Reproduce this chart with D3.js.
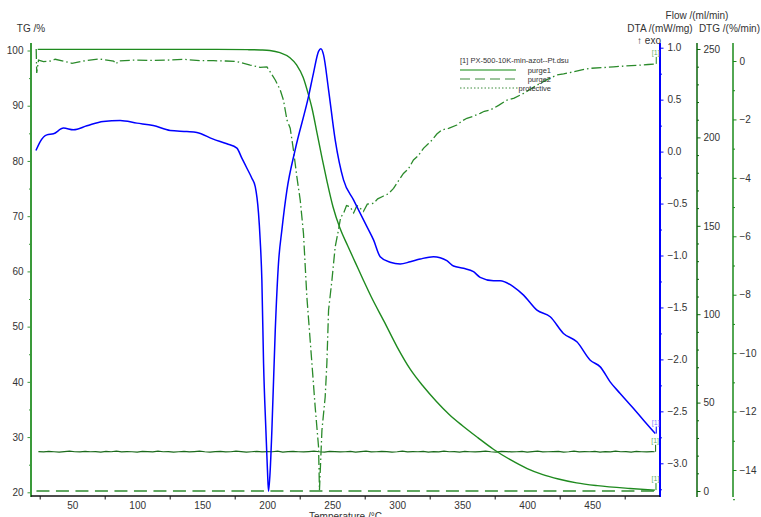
<!DOCTYPE html>
<html>
<head>
<meta charset="utf-8">
<script src="https://cdn.jsdelivr.net/npm/d3@7"></script>
<style>
  body { margin: 0; background: #fff; }
  svg { display: block; font-family: "Liberation Sans", Arial, sans-serif; }
</style>
</head>
<body>
<svg id="chart" width="761" height="517"></svg>
<script>
// ---------------- data (temperature in °C) ----------------
// TG mass curve [T, %]
const tgData = [
  [23.5, 100.2], [60, 100.2], [100, 100.2], [150, 100.2], [185, 100.15], [195, 100.1],
  [202, 100.0], [209.8, 99.6], [217.5, 98.7], [222.6, 97.4], [227.7, 95.1],
  [231.6, 92.1], [234.5, 89.5], [238.3, 85.1], [242.2, 80.5], [246.0, 76.3],
  [250.6, 71.7], [256.0, 67.8], [262, 64.6], [268, 61.5], [274, 58.4],
  [280, 55.4], [290, 50.9], [300, 46.3], [310, 42.3], [320, 39.2], [330, 36.5],
  [340, 34.1], [350, 32.1], [362, 29.9], [374, 27.8], [387, 25.9], [400, 24.3],
  [412, 23.2], [424, 22.4], [438, 21.7], [454, 21.2], [479, 20.7], [498.3, 20.4]
];

// DTA signal [T, mW/mg]
const dtaData = [
  [22.1, 0.010], [25.4, 0.097], [30.5, 0.161], [35.6, 0.171], [43.3, 0.226],
  [51.0, 0.210], [61.3, 0.248], [73.8, 0.290], [86.9, 0.299], [99.8, 0.274],
  [112.3, 0.251], [125.4, 0.203], [138.2, 0.193], [145.9, 0.184], [158.5, 0.120],
  [169.0, 0.075], [176.7, 0.033], [180.5, -0.063], [184.4, -0.160], [188.2, -0.256],
  [190.8, -0.337], [193.3, -0.590], [194.6, -0.850], [195.9, -1.236], [197.2, -2.036],
  [199.0, -2.682], [200.2, -3.067], [201.0, -3.270], [202.3, -3.067], [203.6, -2.682],
  [206.2, -1.718], [208.7, -1.072], [211.3, -0.754], [215.2, -0.369], [221.5, 0.017],
  [231.8, 0.531], [235.6, 0.756], [239.5, 0.964], [241.3, 0.990], [243.3, 0.933],
  [247.2, 0.595], [252.3, 0.113], [258.7, -0.272], [266.4, -0.465], [276.7, -0.722],
  [281.8, -0.850], [286.9, -1.011], [294.6, -1.065], [302.3, -1.082], [310.0, -1.060],
  [317.7, -1.034], [327.9, -1.011], [338.2, -1.050], [343.3, -1.101], [351.0, -1.123],
  [358.7, -1.156], [363.8, -1.210], [374.1, -1.243], [379.2, -1.243], [389.5, -1.301],
  [397.2, -1.381], [407.5, -1.525], [417.7, -1.590], [427.9, -1.750], [438.2, -1.831],
  [448.5, -2.008], [456.2, -2.072], [463.8, -2.216], [471.5, -2.328], [481.8, -2.473],
  [489.5, -2.586], [498.5, -2.714]
];

// DTG rate [T, %/min]
const dtgData = [
  [22.3, 0.41], [22.7, -0.41], [24.1, 0.03], [27.9, -0.02], [33.1, 0.0], [36.9, 0.06],
  [44.6, -0.02], [49.8, -0.08], [58.7, 0.0], [70.2, 0.07], [76.7, 0.03], [81.8, 0.0],
  [83.8, -0.10], [85.6, 0.0], [97.2, 0.03], [110, 0.02], [122.8, 0.03], [135.6, 0.06],
  [148.5, 0.01], [158.7, 0.01], [168, 0.0], [176.7, -0.02], [186.9, -0.14], [194.6, -0.22],
  [199.8, -0.20], [202.3, -0.37], [206.2, -0.65], [210.0, -0.99], [212.5, -1.34],
  [215.2, -2.02], [217.7, -2.30], [220.2, -3.05], [222.8, -3.96], [225.4, -4.76],
  [227.9, -5.90], [230.5, -8.07], [234.4, -10.35], [236.9, -11.84], [239.5, -13.21],
  [240.2, -14.69], [242.1, -12.64], [244.6, -11.50], [245.9, -10.35], [247.2, -8.53],
  [249.8, -7.50], [252.3, -6.36], [254.8, -5.79], [256.5, -5.35], [258.7, -5.22],
  [261, -4.95], [263.8, -4.99], [266.5, -5.20], [269, -4.95], [271.5, -5.04],
  [274, -5.15], [277, -4.90], [281.8, -4.87], [285, -4.72], [289.5, -4.62],
  [293, -4.55], [297.2, -4.36], [301, -4.10], [304.8, -3.85], [308.5, -3.70],
  [312.5, -3.39], [316, -3.25], [320.2, -2.99], [323.5, -2.85], [326.7, -2.71],
  [330.5, -2.50], [334.4, -2.36], [340, -2.30], [345.9, -2.19], [350, -2.05],
  [353.6, -1.96], [358, -1.90], [363.8, -1.79], [367, -1.72], [371.5, -1.68],
  [378, -1.52], [384.4, -1.34], [390, -1.27], [397.2, -1.11], [403, -0.95],
  [410.0, -0.76], [416, -0.62], [422.8, -0.48], [428, -0.44], [435.6, -0.37],
  [442, -0.30], [448.5, -0.25], [457, -0.23], [466.4, -0.20], [476, -0.17],
  [486.9, -0.14], [493, -0.12], [498.5, -0.10]
];

// Gas flow purge1 [ml/min], logged every 4 °C from 24 °C, last reading at 498 °C
const purge1Values = [
  22.3, 22.1, 22.4, 22.2, 22.0, 22.3, 22.5, 22.2, 22.1, 22.4,
  22.2, 22.3, 22.0, 22.4, 22.2, 22.5, 22.1, 22.3, 22.2, 22.0,
  22.4, 22.3, 22.1, 22.5, 22.2, 22.3, 22.0, 22.2, 22.4, 22.1,
  22.3, 22.5, 22.2, 22.0, 22.3, 22.4, 22.1, 22.2, 22.5, 22.3,
  22.0, 22.2, 22.4, 22.1, 22.3, 22.2, 22.5, 22.0, 22.3, 22.4,
  22.2, 22.1, 22.3, 22.5, 22.2, 22.0, 22.4, 22.3, 22.1, 22.2,
  22.4, 22.0, 22.3, 22.5, 22.1, 22.2, 22.4, 22.3, 22.0, 22.2,
  22.5, 22.1, 22.3, 22.2, 22.4, 22.0, 22.3, 22.1, 22.5, 22.2,
  22.3, 22.0, 22.4, 22.2, 22.1, 22.3, 22.5, 22.2, 22.0, 22.4,
  22.3, 22.1, 22.2, 22.4, 22.0, 22.3, 22.5, 22.1, 22.2, 22.3,
  22.4, 22.0, 22.2, 22.5, 22.1, 22.3, 22.2, 22.4, 22.0, 22.3,
  22.1, 22.5, 22.2, 22.3, 22.0, 22.4, 22.2, 22.1, 22.3, 22.2
];
const purge1Temps = d3.range(24, 497, 4).concat([498]);
const purge1Data = purge1Temps.map((t, i) => [t, purge1Values[i]]);

// Gas flow purge2 [T, ml/min]
const purge2Data = [[22.5, 0.0], [250, 0.0], [498.5, 0.0]];

// Axis ticks
const tempTicks = [50, 100, 150, 200, 250, 300, 350, 400, 450];
const tempMinorTicks = [25, 75, 125, 175, 225, 275, 325, 375, 425, 475];
const tgTicks = [20, 30, 40, 50, 60, 70, 80, 90, 100];
const dtaTicks = [-3.0, -2.5, -2.0, -1.5, -1.0, -0.5, 0.0, 0.5, 1.0];
const flowTicks = [0, 50, 100, 150, 200, 250];
const dtgTicks = [-14, -12, -10, -8, -6, -4, -2, 0];

const legendTitle = "[1] PX-500-10K-min-azot--Pt.dsu";
const legendItems = ["purge1", "purge2", "protective"];

// ---------------- layout ----------------
const svg = d3.select("#chart");
const X0 = 31, X1 = 660, YTOP = 43, YBOT = 496;
const AX_DTA = 660, AX_FLOW = 697, AX_DTG = 733;
const TXT = "#333";
const FS = "10px";

const x = d3.scaleLinear().domain([0, 500]).range([7.2, 657.2]);
const yTG = d3.scaleLinear().domain([20, 100]).range([492.3, 50.5]);
const yDTA = d3.scaleLinear().domain([-3, 1]).range([463.3, 47.7]);
const yFlow = d3.scaleLinear().domain([0, 250]).range([491, 49]);
const yDTG = d3.scaleLinear().domain([-14, 0]).range([470, 61]);

// vertical axis: line + major/minor ticks + labels
function vAxis(xPos, scale, ticks, minor, color, width, side, fmt, pad) {
  const g = svg.append("g").attr("transform", `translate(${xPos},0)`);
  g.append("line").attr("x1", 0).attr("x2", 0).attr("y1", YTOP).attr("y2", YBOT + 1)
    .attr("stroke", color).attr("stroke-width", width);
  const mk = side === "left" ? d3.axisLeft : d3.axisRight;
  const gm = g.append("g").call(mk(scale).tickValues(minor).tickSize(2).tickFormat(""));
  gm.select(".domain").remove();
  gm.selectAll("line").attr("stroke", color);
  const gM = g.append("g").call(mk(scale).tickValues(ticks).tickSize(3.5).tickFormat(fmt).tickPadding(pad));
  gM.select(".domain").remove();
  gM.selectAll("line").attr("stroke", color);
  gM.selectAll("text").attr("fill", TXT).style("font-size", FS)
    .style("font-family", '"Liberation Sans", Arial, sans-serif');
  return g;
}

vAxis(X0, yTG, tgTicks, d3.range(25, 100, 10), "#3a9a3a", 2, "left", d3.format("d"), 4);
vAxis(AX_DTA, yDTA, dtaTicks, [-3.25, -2.75, -2.25, -1.75, -1.25, -0.75, -0.25, 0.25, 0.75],
      "#0000ff", 2, "right", d3.format(".1f"), 4);
vAxis(AX_FLOW, yFlow, flowTicks, d3.range(10, 250, 10).filter(v => v % 50 !== 0),
      "#0a640a", 1.5, "right", d3.format("d"), 3);
vAxis(AX_DTG, yDTG, dtgTicks, [-15, -13, -11, -9, -7, -5, -3, -1],
      "#1a8a1a", 1.5, "right", d3.format("d"), 3);

// bottom temperature axis
const gx = svg.append("g").attr("transform", `translate(0,${YBOT})`);
gx.append("line").attr("x1", X0).attr("x2", X1).attr("y1", 0).attr("y2", 0)
  .attr("stroke", "#111").attr("stroke-width", 1.5);
const gxMinor = gx.append("g").call(d3.axisBottom(x).tickValues(tempMinorTicks).tickSize(3.5).tickFormat(""));
gxMinor.select(".domain").remove();
gxMinor.selectAll("line").attr("stroke", "#111");
const gxMajor = gx.append("g").call(d3.axisBottom(x).tickValues(tempTicks).tickSize(0).tickPadding(6).tickFormat(d3.format("d")));
gxMajor.select(".domain").remove();
gxMajor.selectAll("text").attr("fill", TXT).style("font-size", FS)
  .style("font-family", '"Liberation Sans", Arial, sans-serif');

// axis titles
const title = (t, xx, yy, anchor) => svg.append("text").text(t).attr("x", xx).attr("y", yy)
  .attr("text-anchor", anchor || "middle").attr("fill", TXT).style("font-size", FS);
title("TG /%", X0, 32);
title("Flow /(ml/min)", AX_FLOW, 19);
title("DTA /(mW/mg)", AX_DTA, 32);
title("DTG /(%/min)", 760, 32, "end");
title("\u2191 exo", 661, 44, "end");
title("Temperature /\u00B0C", (X0 + X1) / 2, 520);

// ---------------- curves ----------------
const mkLine = (ys, curve) => d3.line().x(d => x(d[0])).y(d => ys(d[1])).curve(curve || d3.curveLinear);

svg.append("path").datum(purge2Data).attr("d", mkLine(yFlow))
  .attr("fill", "none").attr("stroke", "#2e8b2e").attr("stroke-width", 1.4)
  .attr("stroke-dasharray", "13,6.5");

svg.append("path").datum(purge1Data).attr("d", mkLine(yFlow))
  .attr("fill", "none").attr("stroke", "#1b6a1b").attr("stroke-width", 1.2);

svg.append("path").datum(tgData).attr("d", mkLine(yTG, d3.curveMonotoneX))
  .attr("fill", "none").attr("stroke", "#1f8a1f").attr("stroke-width", 1.4);

svg.append("path").datum(dtgData).attr("d", mkLine(yDTG))
  .attr("fill", "none").attr("stroke", "#2a8a2a").attr("stroke-width", 1.3)
  .attr("stroke-dasharray", "10,3,1.5,3");

svg.append("path").datum(dtaData).attr("d", mkLine(yDTA, d3.curveMonotoneX))
  .attr("fill", "none").attr("stroke", "#0000ff").attr("stroke-width", 1.5);

// end-of-curve markers "[1]"
const ends = [
  { d: dtgData, s: yDTG, c: "#2a8a2a", lc: "#5fb35f" },
  { d: dtaData, s: yDTA, c: "#0000ff", lc: "#7b7bff" },
  { d: purge1Data, s: yFlow, c: "#1b6a1b", lc: "#5fb35f" },
  { d: tgData, s: yTG, c: "#1f8a1f", lc: "#5fb35f" }
];
ends.forEach(e => {
  const last = e.d[e.d.length - 1];
  const ex = x(last[0]) + 1, ey = e.s(last[1]);
  svg.append("line").attr("x1", ex).attr("x2", ex).attr("y1", ey).attr("y2", ey - 7)
    .attr("stroke", e.c).attr("stroke-width", 1);
  svg.append("text").text("[1]").attr("x", ex - 0.5).attr("y", ey - 9)
    .attr("text-anchor", "middle").attr("fill", e.lc).style("font-size", "7px");
});

// ---------------- legend ----------------
const lg = svg.append("g");
lg.append("text").text(legendTitle).attr("x", 460).attr("y", 63)
  .attr("fill", TXT).style("font-size", "7.5px");
const lstyles = [
  { dash: null, color: "#86c486", w: 2, y: 70 },
  { dash: "10,5", color: "#3c8c3c", w: 1.2, y: 79 },
  { dash: "1.5,2", color: "#3c8c3c", w: 1, y: 88 }
];
lstyles.forEach((st, i) => {
  lg.append("line").attr("x1", 460).attr("x2", i === 2 ? 519 : 516)
    .attr("y1", st.y).attr("y2", st.y)
    .attr("stroke", st.color).attr("stroke-width", st.w)
    .attr("stroke-dasharray", st.dash);
  lg.append("text").text(legendItems[i]).attr("x", 551).attr("y", st.y + 3)
    .attr("text-anchor", "end").attr("fill", TXT).style("font-size", "7.5px");
});
</script>
</body>
</html>
